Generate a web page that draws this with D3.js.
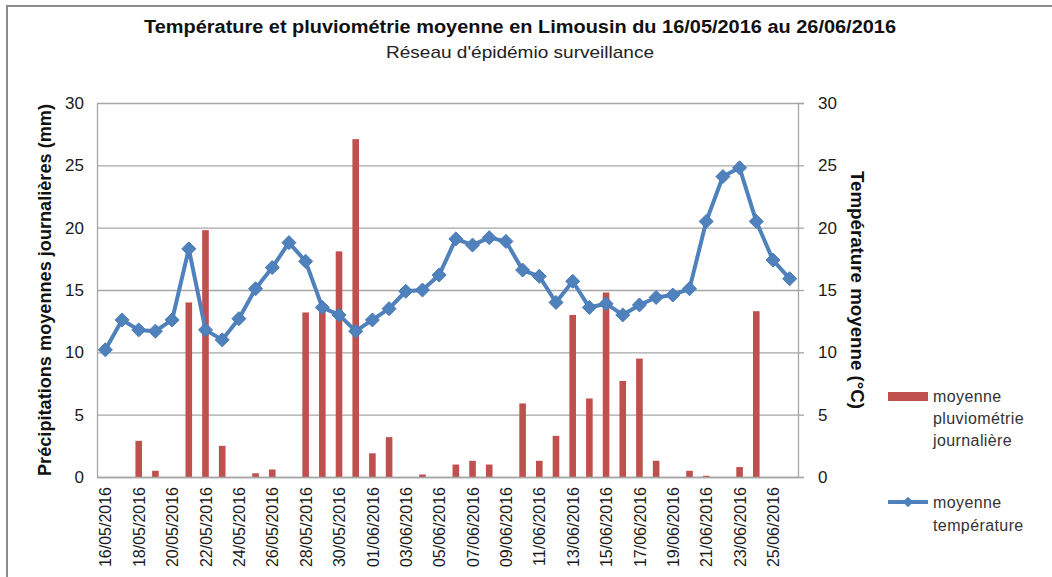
<!DOCTYPE html>
<html>
<head>
<meta charset="utf-8">
<script src="https://cdn.jsdelivr.net/npm/d3@7"></script>
<style>
  html, body { margin: 0; padding: 0; background: #fff; }
  svg { display: block; font-family: "Liberation Sans", Arial, sans-serif; }
</style>
</head>
<body>
<svg id="chart" width="1052" height="577"></svg>
<script>
const dates = ["16/05/2016","17/05/2016","18/05/2016","19/05/2016","20/05/2016","21/05/2016","22/05/2016","23/05/2016","24/05/2016","25/05/2016","26/05/2016","27/05/2016","28/05/2016","29/05/2016","30/05/2016","31/05/2016","01/06/2016","02/06/2016","03/06/2016","04/06/2016","05/06/2016","06/06/2016","07/06/2016","08/06/2016","09/06/2016","10/06/2016","11/06/2016","12/06/2016","13/06/2016","14/06/2016","15/06/2016","16/06/2016","17/06/2016","18/06/2016","19/06/2016","20/06/2016","21/06/2016","22/06/2016","23/06/2016","24/06/2016","25/06/2016","26/06/2016"];
const rain = [0,0,2.9,0.5,0,14.0,19.8,2.5,0,0.3,0.6,0,13.2,13.4,18.1,27.1,1.9,3.2,0,0.2,0,1.0,1.3,1.0,0,5.9,1.3,3.3,13.0,6.3,14.8,7.7,9.5,1.3,0,0.5,0.1,0,0.8,13.3,0,0];
const temp = [10.2,12.6,11.8,11.7,12.6,18.3,11.8,11.0,12.7,15.1,16.8,18.8,17.3,13.6,13.0,11.7,12.6,13.5,14.9,15.0,16.2,19.1,18.6,19.2,18.9,16.6,16.1,14.0,15.7,13.6,13.9,13.0,13.8,14.4,14.6,15.1,20.5,24.1,24.8,20.5,17.4,15.9];
const yTicks = [0,5,10,15,20,25,30];
const xTickLabels = dates.filter((d,i) => i % 2 === 0);

const title = "Température et pluviométrie moyenne en Limousin du 16/05/2016 au 26/06/2016";
const subtitle = "Réseau d'épidémio surveillance";
const yLeftTitle = "Précipitations moyennes journalières (mm)";
const yRightTitle = "Température moyenne (°C)";
const legendRain = ["moyenne","pluviométrie","journalière"];
const legendTemp = ["moyenne","température"];

const svg = d3.select("#chart");
const L = 97, R = 798, T = 103, B = 477;
const red = "#C0504D", blue = "#4F81BD", grid = "#a6a6a6", txt = "#1a1a1a";

// outer border
svg.append("rect").attr("x",7).attr("y",6).attr("width",1060).attr("height",600)
  .attr("fill","none").attr("stroke","#8c8c8c").attr("stroke-width",2);

const xc = d3.scalePoint().domain(dates).range([L,R]).padding(0.5);
const yL = d3.scaleLinear().domain([0,30]).range([B,T]);
const yR = d3.scaleLinear().domain([0,30]).range([B,T]);

// gridlines
svg.append("g").selectAll("line").data(yTicks).join("line")
  .attr("x1",L).attr("x2",R).attr("y1",d=>yL(d)+0.5).attr("y2",d=>yL(d)+0.5)
  .attr("stroke",grid).attr("stroke-width",1.3);

// left axis
const gl = svg.append("g").attr("transform",`translate(${L},0)`)
  .call(d3.axisLeft(yL).tickValues(yTicks).tickSize(0).tickPadding(13));
gl.select(".domain").attr("stroke",grid).attr("stroke-width",1.3);
gl.selectAll("text").attr("font-size",17).attr("fill",txt);

// right axis
const gr = svg.append("g").attr("transform",`translate(${R},0)`)
  .call(d3.axisRight(yR).tickValues(yTicks).tickSize(6).tickPadding(14));
gr.select(".domain").attr("stroke",grid).attr("stroke-width",1.3);
gr.selectAll(".tick line").attr("stroke",grid).attr("stroke-width",1.3);
gr.selectAll("text").attr("font-size",17).attr("fill",txt);

// bars
svg.append("g").selectAll("rect").data(rain).join("rect")
  .attr("x",(d,i)=>xc(dates[i]) - 3.3)
  .attr("width",6.6)
  .attr("y",d=>yL(d)).attr("height",d=>B - yL(d))
  .attr("fill",red);

// bottom axis
const gb = svg.append("g").attr("transform",`translate(0,${B})`)
  .call(d3.axisBottom(xc).tickValues(xTickLabels).tickSize(0).tickPadding(0));
gb.select(".domain").attr("stroke",grid).attr("stroke-width",1.3).attr("d",`M${L},0.5H${R}`);
gb.selectAll("text")
  .attr("transform","rotate(-90)")
  .attr("text-anchor","end")
  .attr("x",-10).attr("y",0).attr("dy","0.35em")
  .attr("font-size",16).attr("fill",txt);

// temperature line
const line = d3.line().x((d,i)=>xc(dates[i])).y(d=>yR(d));
svg.append("path").datum(temp).attr("d",line)
  .attr("fill","none").attr("stroke",blue).attr("stroke-width",4).attr("stroke-linejoin","round");
const diamond = d3.symbol().type(d3.symbolDiamond2).size(125);
svg.append("g").selectAll("path").data(temp).join("path")
  .attr("d",diamond)
  .attr("transform",(d,i)=>`translate(${xc(dates[i])},${yR(d)})`)
  .attr("fill",blue).attr("stroke","#4a7ab4").attr("stroke-width",1);

// titles
svg.append("text").attr("x",520).attr("y",33).attr("text-anchor","middle")
  .attr("font-size",18).attr("font-weight","bold").attr("fill","#111")
  .attr("textLength",752).attr("lengthAdjust","spacingAndGlyphs").text(title);
svg.append("text").attr("x",520).attr("y",58).attr("text-anchor","middle")
  .attr("font-size",17).attr("fill","#222")
  .attr("textLength",268).attr("lengthAdjust","spacingAndGlyphs").text(subtitle);

svg.append("text").attr("transform","translate(51,290) rotate(-90)").attr("text-anchor","middle")
  .attr("font-size",17.5).attr("font-weight","bold").attr("fill","#111")
  .attr("textLength",372).attr("lengthAdjust","spacingAndGlyphs").text(yLeftTitle);
svg.append("text").attr("transform","translate(851,290) rotate(90)").attr("text-anchor","middle")
  .attr("font-size",17.5).attr("font-weight","bold").attr("fill","#111")
  .attr("textLength",238).attr("lengthAdjust","spacingAndGlyphs").text(yRightTitle);

// legend
const lg = svg.append("g");
lg.append("rect").attr("x",888).attr("y",392).attr("width",40).attr("height",9).attr("fill",red);
lg.selectAll("text.r").data(legendRain).join("text").attr("class","r")
  .attr("x",933).attr("y",(d,i)=>402 + i*22).attr("font-size",16).attr("letter-spacing",0.4)
  .attr("fill","#333").text(d=>d);
lg.append("line").attr("x1",888).attr("x2",928).attr("y1",502).attr("y2",502)
  .attr("stroke",blue).attr("stroke-width",4);
lg.append("path").attr("d",d3.symbol().type(d3.symbolDiamond2).size(70)())
  .attr("transform","translate(908,502)").attr("fill",blue);
lg.selectAll("text.t").data(legendTemp).join("text").attr("class","t")
  .attr("x",933).attr("y",(d,i)=>508 + i*23).attr("font-size",16).attr("letter-spacing",0.4)
  .attr("fill","#333").text(d=>d);
</script>
</body>
</html>
